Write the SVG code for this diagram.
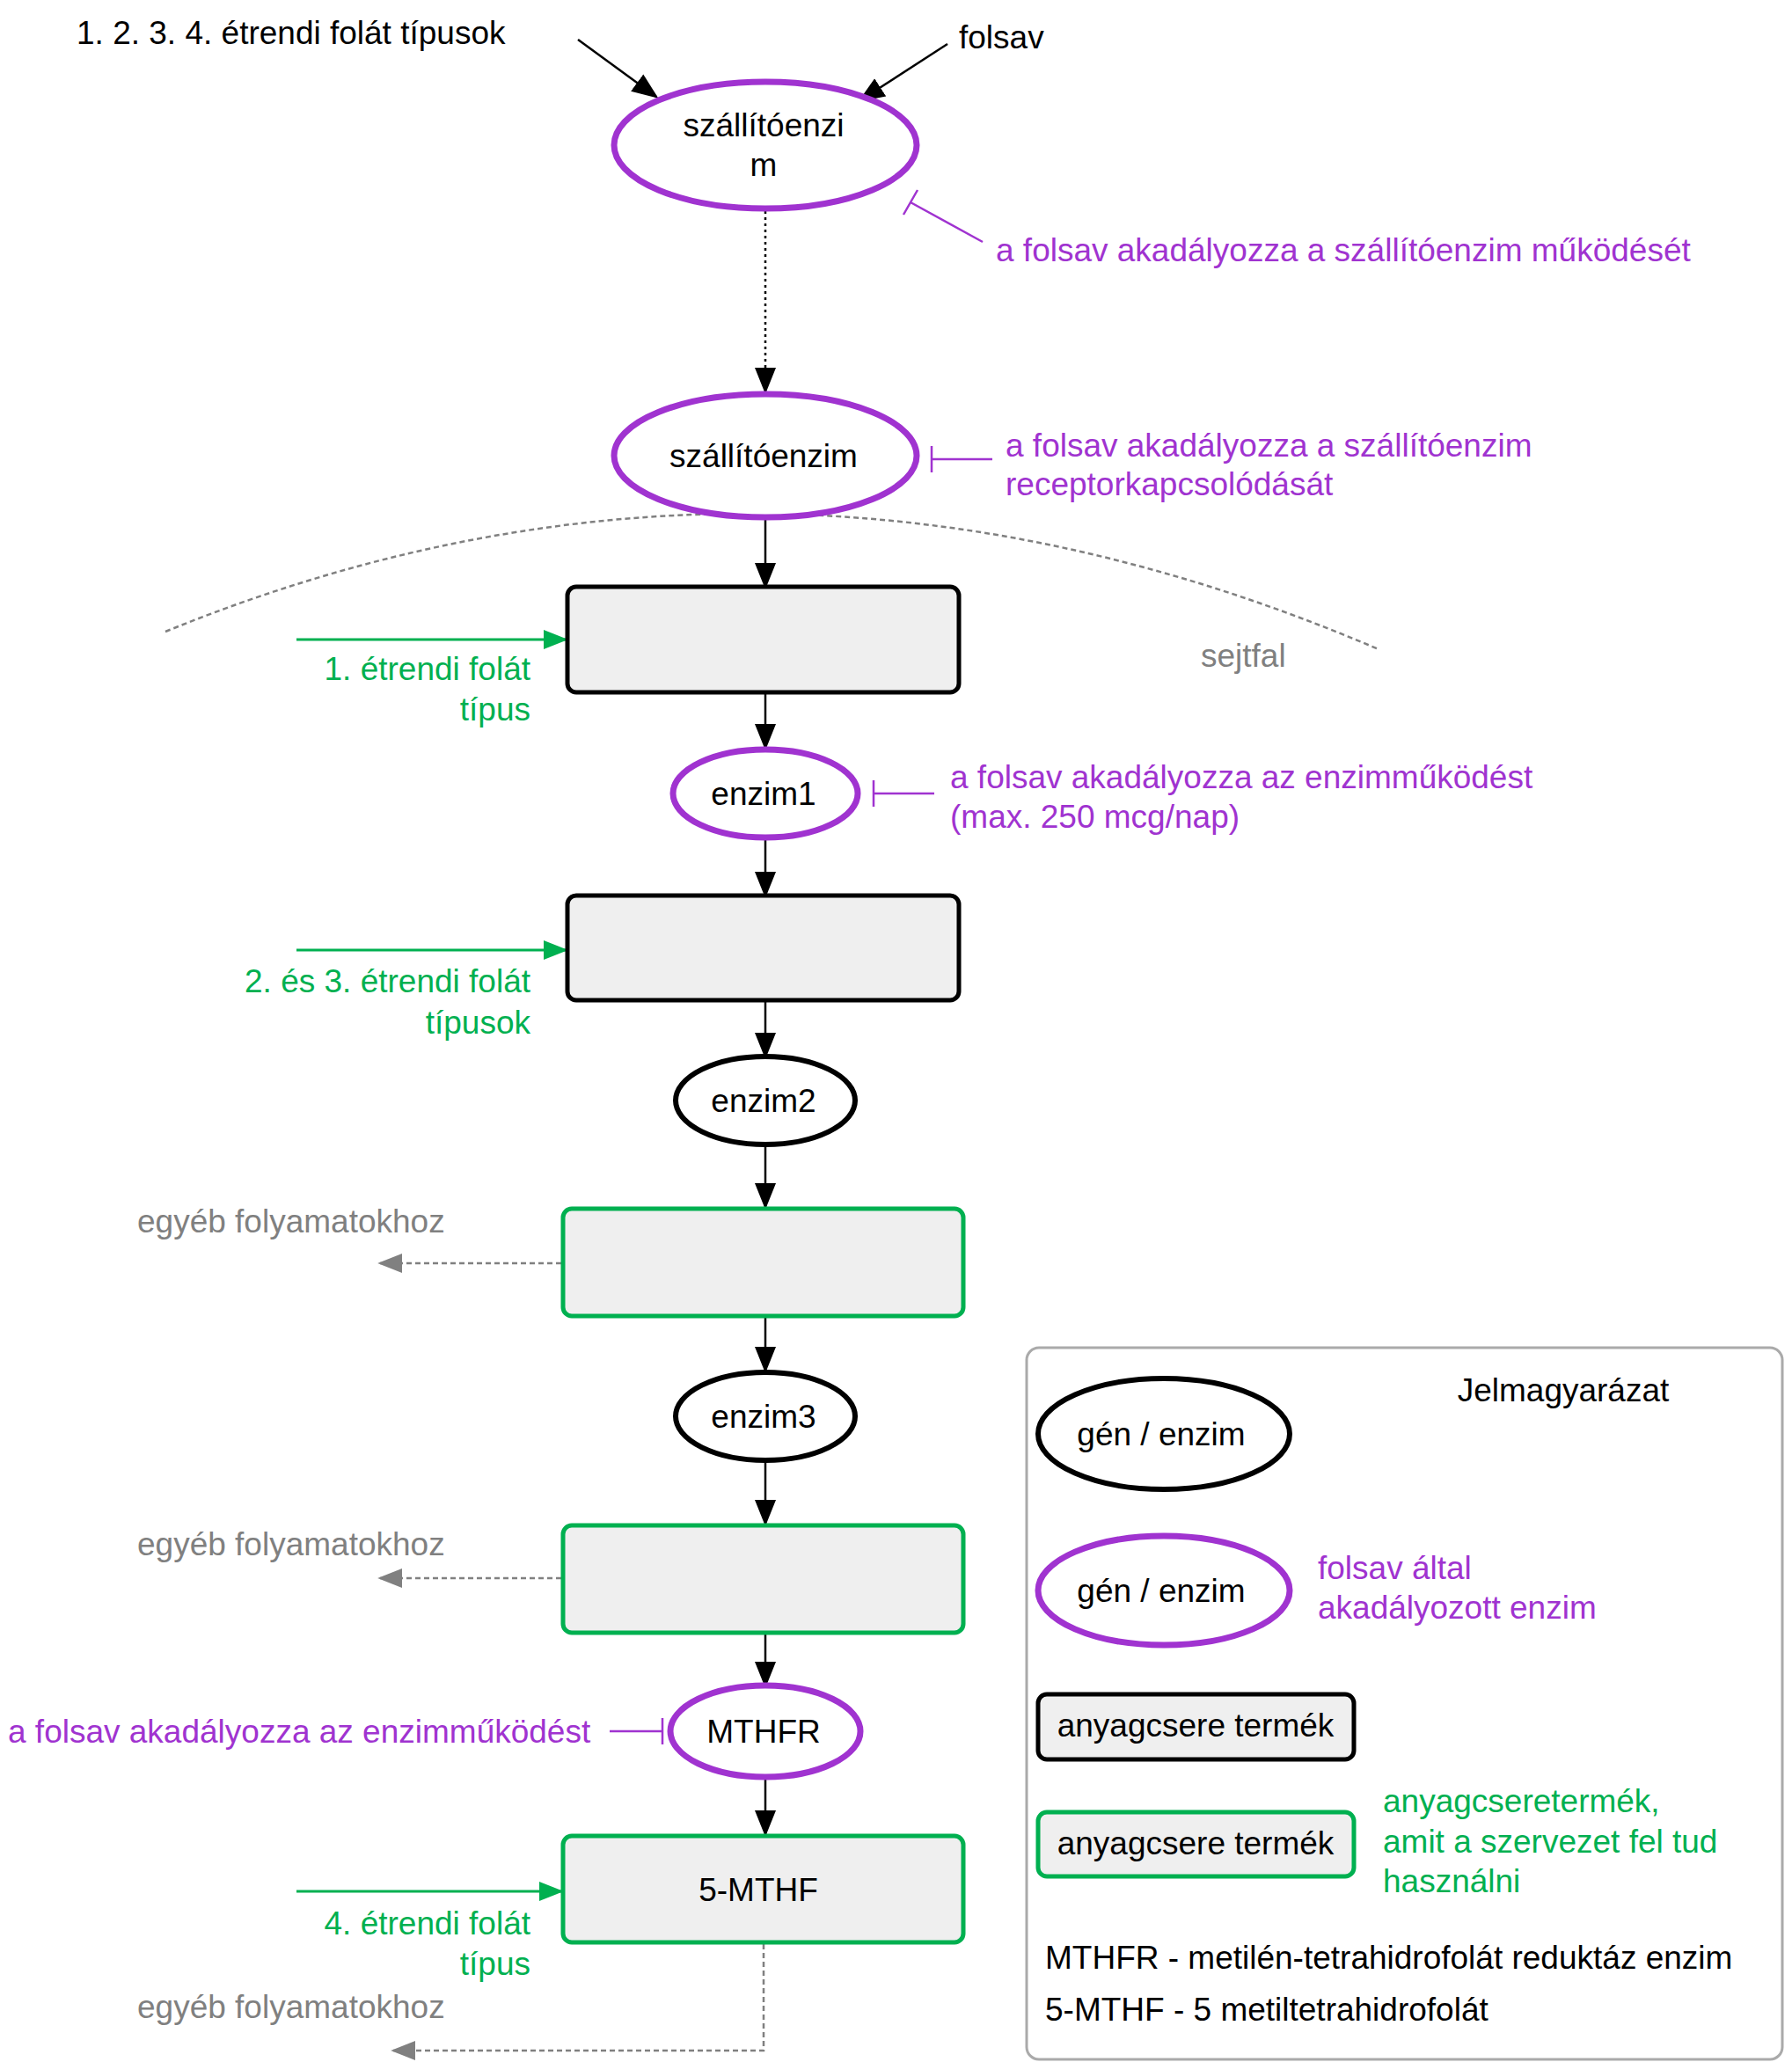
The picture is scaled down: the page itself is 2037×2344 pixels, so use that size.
<svg xmlns="http://www.w3.org/2000/svg" width="2037" height="2344" viewBox="0 0 2037 2344">
<style>
text{font-family:"Liberation Sans",Arial,sans-serif;font-size:37px;fill:#000}
.p{fill:#a033d0}.g{fill:#00b050}.gr{fill:#808080}
.m{text-anchor:middle}.r{text-anchor:end}
.pe{fill:#fff;stroke:#a033d0;stroke-width:7}
.be{fill:#fff;stroke:#000;stroke-width:6}
.bb{fill:#efefef;stroke:#000;stroke-width:5}
.gb{fill:#efefef;stroke:#00b050;stroke-width:5}
.ar{stroke:#000;stroke-width:2.5;fill:none;marker-end:url(#ab)}
.ga{stroke:#00b050;stroke-width:3;fill:none;marker-end:url(#ag)}
.da{stroke:#808080;stroke-width:2.5;stroke-dasharray:6,4;fill:none;marker-end:url(#agr)}
.inh{stroke:#a033d0;stroke-width:2.5;fill:none}
</style>
<defs>
<marker id="ab" markerWidth="10" markerHeight="10" refX="9" refY="5" orient="auto" markerUnits="userSpaceOnUse" viewBox="0 0 10 10"><path d="M0,1 L10,5 L0,9z" fill="#000"/></marker>
<marker id="ag" viewBox="0 0 10 10" refX="9" refY="5" markerWidth="28" markerHeight="28" orient="auto" markerUnits="userSpaceOnUse"><path d="M0,1 L10,5 L0,9z" fill="#00b050"/></marker>
<marker id="agr" viewBox="0 0 10 10" refX="9" refY="5" markerWidth="28" markerHeight="28" orient="auto" markerUnits="userSpaceOnUse"><path d="M0,1 L10,5 L0,9z" fill="#808080"/></marker>
</defs>
<style>#ab{overflow:visible}</style>
<defs>
<marker id="abk" viewBox="0 0 10 10" refX="9" refY="5" markerWidth="30" markerHeight="30" orient="auto" markerUnits="userSpaceOnUse"><path d="M0,1 L10,5 L0,9z" fill="#000"/></marker>
</defs>
<g id="connectors">
<path d="M188,718 Q870,440 1567,738" stroke="#808080" stroke-width="2.5" stroke-dasharray="6,4" fill="none"/>
<line x1="657" y1="45" x2="746" y2="110" stroke="#000" stroke-width="2.5" marker-end="url(#abk)"/>
<line x1="1077" y1="50" x2="978" y2="114" stroke="#000" stroke-width="2.5" marker-end="url(#abk)"/>
<line x1="870" y1="240" x2="870" y2="445" stroke="#000" stroke-width="2.5" stroke-dasharray="3,4" marker-end="url(#abk)"/>
<line x1="870" y1="590" x2="870" y2="667" stroke="#000" stroke-width="2.5" marker-end="url(#abk)"/>
<line x1="870" y1="787" x2="870" y2="850" stroke="#000" stroke-width="2.5" marker-end="url(#abk)"/>
<line x1="870" y1="955" x2="870" y2="1018" stroke="#000" stroke-width="2.5" marker-end="url(#abk)"/>
<line x1="870" y1="1137" x2="870" y2="1201" stroke="#000" stroke-width="2.5" marker-end="url(#abk)"/>
<line x1="870" y1="1302" x2="870" y2="1372" stroke="#000" stroke-width="2.5" marker-end="url(#abk)"/>
<line x1="870" y1="1496" x2="870" y2="1558" stroke="#000" stroke-width="2.5" marker-end="url(#abk)"/>
<line x1="870" y1="1660" x2="870" y2="1732" stroke="#000" stroke-width="2.5" marker-end="url(#abk)"/>
<line x1="870" y1="1856" x2="870" y2="1916" stroke="#000" stroke-width="2.5" marker-end="url(#abk)"/>
<line x1="870" y1="2020" x2="870" y2="2085" stroke="#000" stroke-width="2.5" marker-end="url(#abk)"/>
<line class="ga" x1="337" y1="727" x2="643" y2="727"/>
<line class="ga" x1="337" y1="1080" x2="643" y2="1080"/>
<line class="ga" x1="337" y1="2150" x2="638" y2="2150"/>
<line class="da" x1="638" y1="1436" x2="432" y2="1436"/>
<line class="da" x1="638" y1="1794" x2="432" y2="1794"/>
<path class="da" d="M868,2210 V2331 H447"/>
<path class="inh" d="M1117,275 L1035,230 M1027,244 L1043,216"/>
<path class="inh" d="M1128,522 H1059 M1059,507 V537"/>
<path class="inh" d="M1062,902 H993 M993,887 V917"/>
<path class="inh" d="M693,1968 H753 M753,1953 V1983"/>
</g>
<g id="n1"><ellipse class="pe" cx="870" cy="165" rx="172" ry="72"/><text class="m" x="868" y="155">szállítóenzi</text><text class="m" x="868" y="200">m</text></g>
<g id="n2"><ellipse class="pe" cx="870" cy="518" rx="172" ry="70"/><text class="m" x="868" y="531">szállítóenzim</text></g>
<g id="b1"><rect class="bb" x="645" y="667" width="445" height="120" rx="10"/></g>
<g id="e1"><ellipse class="pe" cx="870" cy="902" rx="105" ry="50"/><text class="m" x="868" y="915">enzim1</text></g>
<g id="b2"><rect class="bb" x="645" y="1018" width="445" height="119" rx="10"/></g>
<g id="e2"><ellipse class="be" cx="870" cy="1251" rx="102" ry="50"/><text class="m" x="868" y="1264">enzim2</text></g>
<g id="b3"><rect class="gb" x="640" y="1374" width="455" height="122" rx="10"/></g>
<g id="e3"><ellipse class="be" cx="870" cy="1610" rx="102" ry="50"/><text class="m" x="868" y="1623">enzim3</text></g>
<g id="b4"><rect class="gb" x="640" y="1734" width="455" height="122" rx="10"/></g>
<g id="mthfr"><ellipse class="pe" cx="870" cy="1968" rx="108" ry="52"/><text class="m" x="868" y="1981">MTHFR</text></g>
<g id="b5"><rect class="gb" x="640" y="2087" width="455" height="121" rx="10"/><text class="m" x="862" y="2161" fill="#333">5-MTHF</text></g>
<g id="labels">
<text x="87" y="50">1. 2. 3. 4. étrendi folát  típusok</text>
<text x="1090" y="55" font-size="34">folsav</text>
<text class="p" x="1132" y="297">a folsav akadályozza a szállítóenzim működését</text>
<text class="p" x="1143" y="519">a folsav akadályozza a szállítóenzim</text>
<text class="p" x="1143" y="563">receptorkapcsolódását</text>
<text class="gr" x="1365" y="758">sejtfal</text>
<text class="g r" x="603" y="773">1. étrendi folát</text>
<text class="g r" x="603" y="819">típus</text>
<text class="p" x="1080" y="896">a folsav akadályozza az enzimműködést</text>
<text class="p" x="1080" y="941">(max. 250 mcg/nap)</text>
<text class="g r" x="603" y="1128">2. és 3. étrendi folát</text>
<text class="g r" x="603" y="1175">típusok</text>
<text class="gr" x="156" y="1401">egyéb folyamatokhoz</text>
<text class="gr" x="156" y="1768">egyéb folyamatokhoz</text>
<text class="p" x="9" y="1981">a folsav akadályozza az enzimműködést</text>
<text class="g r" x="603" y="2199">4. étrendi folát</text>
<text class="g r" x="603" y="2245">típus</text>
<text class="gr" x="156" y="2294">egyéb folyamatokhoz</text>
</g>
<g id="legend">
<rect x="1167" y="1532" width="859" height="809" rx="14" fill="#fff" stroke="#aaa" stroke-width="3"/>
<text class="m" x="1777" y="1593" font-size="42">Jelmagyarázat</text>
<ellipse class="be" cx="1323" cy="1630" rx="143" ry="63"/><text class="m" x="1320" y="1643">gén / enzim</text>
<ellipse class="pe" cx="1323" cy="1808" rx="143" ry="62"/><text class="m" x="1320" y="1821">gén / enzim</text>
<text class="p" x="1498" y="1795">folsav által</text>
<text class="p" x="1498" y="1840">akadályozott enzim</text>
<rect class="bb" x="1180" y="1926" width="359" height="74" rx="10"/><text class="m" x="1359" y="1974" fill="#333">anyagcsere termék</text>
<rect class="gb" x="1180" y="2060" width="359" height="73" rx="10"/><text class="m" x="1359" y="2108" fill="#333">anyagcsere termék</text>
<text class="g" x="1572" y="2060">anyagcseretermék,</text>
<text class="g" x="1572" y="2106">amit a szervezet fel tud</text>
<text class="g" x="1572" y="2151">használni</text>
<text x="1188" y="2238">MTHFR - metilén-tetrahidrofolát reduktáz enzim</text>
<text x="1188" y="2297">5-MTHF - 5 metiltetrahidrofolát</text>
</g>
</svg>
